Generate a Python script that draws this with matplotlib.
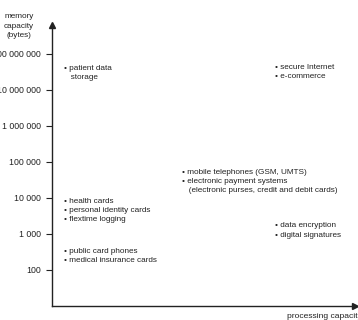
import matplotlib
matplotlib.use("Agg")
import matplotlib.pyplot as plt

plt.rcParams['font.family'] = ['Liberation Sans', 'DejaVu Sans']

# y ticks (bytes, log scale)
tick_values = [100, 1000, 10000, 100000, 1000000, 10000000, 100000000]
tick_labels = ['100', '1 000', '10 000', '100 000', '1 000 000', '10 000 000', '100 000 000']

# application groups: processing capacity (relative 0..1), memory capacity (bytes, top of block)
groups = [
    "\u2022 patient data\n   storage",
    "\u2022 secure Internet\n\u2022 e-commerce",
    "\u2022 mobile telephones (GSM, UMTS)\n\u2022 electronic payment systems\n   (electronic purses, credit and debit cards)",
    "\u2022 data encryption\n\u2022 digital signatures",
    "\u2022 health cards\n\u2022 personal identity cards\n\u2022 flextime logging",
    "\u2022 public card phones\n\u2022 medical insurance cards",
]
processing = [0.04, 0.735, 0.43, 0.735, 0.04, 0.04]
memory = [5.0e7, 5.2e7, 6.4e4, 2.1e3, 1.0e4, 420]

fig = plt.figure(figsize=(3.58, 3.2), dpi=100)
ax = fig.add_axes([52/358, 14/320, 303/358, 281/320])
ax.set_yscale('log')
ax.set_ylim(10, 10**8.8)
ax.set_xlim(0, 1)

col = '#222222'
fs = 5.9
for s in ['top', 'right']:
    ax.spines[s].set_visible(False)
for s in ['left', 'bottom']:
    ax.spines[s].set_color(col)
    ax.spines[s].set_linewidth(1.0)

ax.set_yticks(tick_values)
ax.set_yticklabels(tick_labels)
ax.yaxis.set_minor_locator(matplotlib.ticker.NullLocator())
ax.tick_params(axis='y', direction='out', length=4, width=0.8, color=col,
               labelsize=6.3, labelcolor=col, pad=4)
ax.set_xticks([])

# arrow heads
ax.plot([0], [1], marker='^', color=col, markersize=4, transform=ax.transAxes, clip_on=False)
ax.plot([1], [0], marker='>', color=col, markersize=4, transform=ax.transAxes, clip_on=False)

for txt, x, y in zip(groups, processing, memory):
    ax.text(x, y, txt, fontsize=fs, color=col, va='top', ha='left', linespacing=1.45)

fig.text(19/358, 1 - 26/320, "memory\ncapacity\n(bytes)", fontsize=fs, color=col,
         ha='center', va='center', linespacing=1.45)
fig.text(287/358, 4/320, "processing capacity", fontsize=6.1, color=col,
         ha='left', va='center')

fig.savefig("out.png", dpi=100)
